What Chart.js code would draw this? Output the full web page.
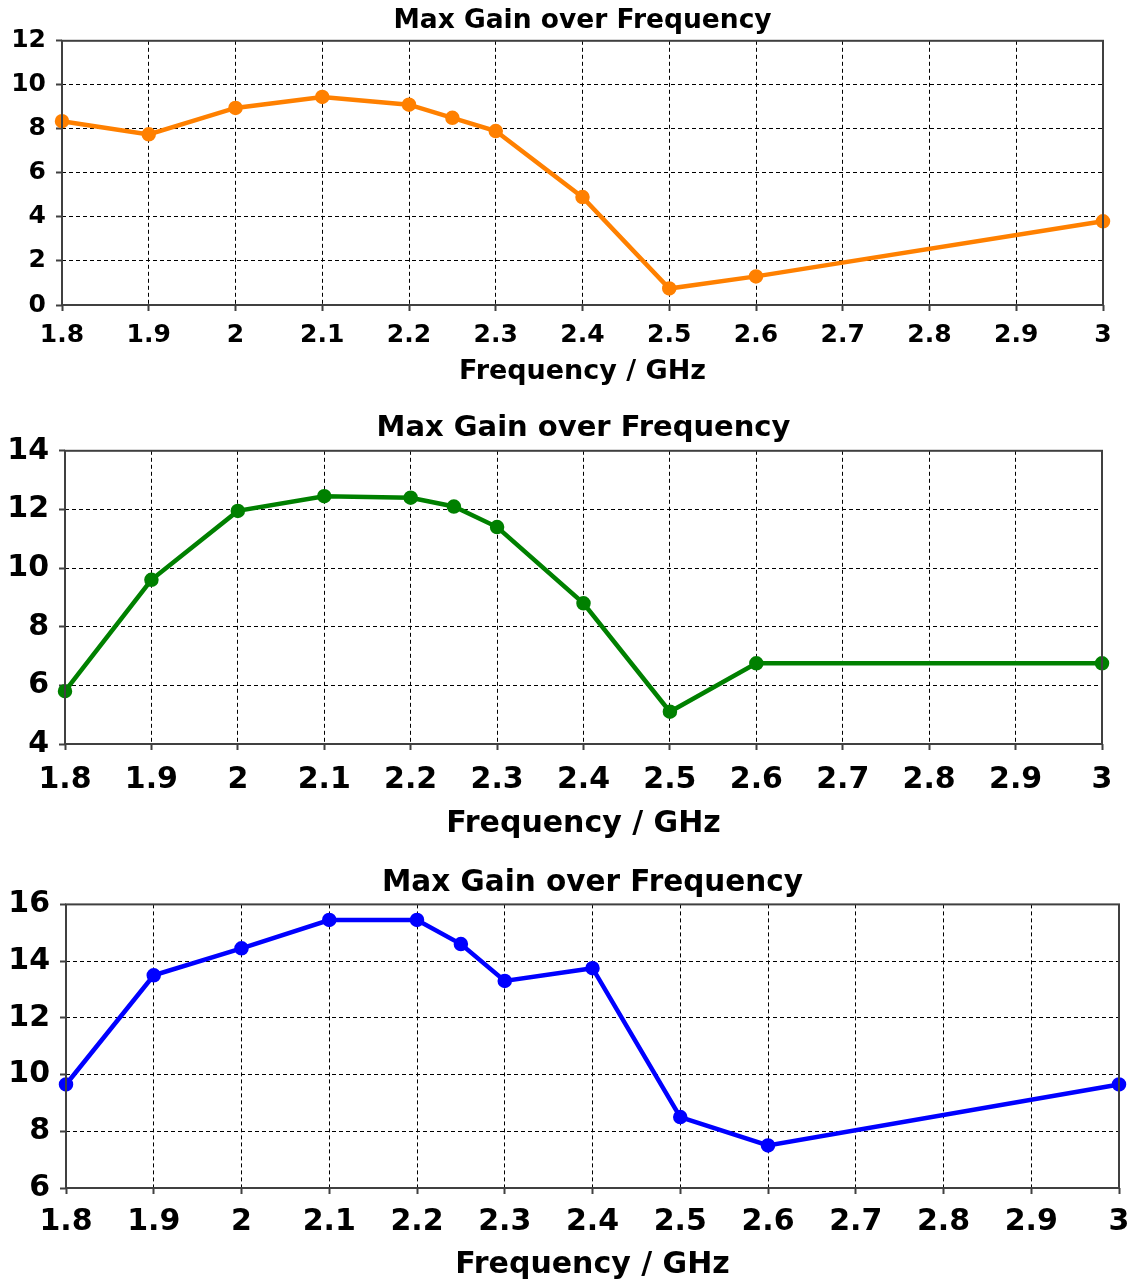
<!DOCTYPE html>
<html>
<head>
<meta charset="utf-8">
<script src="https://cdn.jsdelivr.net/npm/chart.js@4/dist/chart.umd.min.js"></script>
<style>
    body { margin: 0; background: #fff; }
    .box { position: absolute; left: 0; width: 1133px; }
</style>
</head>
<body>
<div class="box" style="top:0px;height:392px"><canvas id="chart1"></canvas></div>
<div class="box" style="top:392px;height:455px"><canvas id="chart2"></canvas></div>
<div class="box" style="top:847px;height:438px"><canvas id="chart3"></canvas></div>
<script>
// frequency points, GHz
const freqs = [1.8, 1.9, 2.0, 2.1, 2.2, 2.25, 2.3, 2.4, 2.5, 2.6, 3.0];

// max gain for the three antennas
const gain1 = [8.35, 7.75, 8.95, 9.45, 9.1, 8.5, 7.9, 4.9, 0.75, 1.3, 3.8];
const gain2 = [5.8, 9.6, 11.95, 12.45, 12.4, 12.1, 11.4, 8.8, 5.1, 6.75, 6.75];
const gain3 = [9.65, 13.5, 14.45, 15.45, 15.45, 14.6, 13.3, 13.75, 8.5, 7.5, 9.65];

const titleText = 'Max Gain over Frequency';
const xTitle = 'Frequency / GHz';

// box round the plot area, and title centred over the plot instead of the canvas
const frame = {
    id: 'frame',
    afterLayout(chart) {
        if (chart.titleBlock) {
            chart.titleBlock.left = chart.chartArea.left;
            chart.titleBlock.right = chart.chartArea.right;
        }
    },
    afterDraw(chart) {
        const a = chart.chartArea;
        const ctx = chart.ctx;
        ctx.save();
        ctx.strokeStyle = '#404040';
        ctx.lineWidth = 2;
        ctx.strokeRect(a.left, a.top, a.right - a.left, a.bottom - a.top);
        ctx.restore();
    }
};

function makeChart(id, values, color, yMin, yMax, s) {
    const points = freqs.map((f, i) => ({ x: f, y: values[i] }));
    const font = size => ({ family: 'DejaVu Sans', weight: 'bold', size: size });

    return new Chart(document.getElementById(id), {
        type: 'line',
        data: {
            datasets: [{
                data: points,
                borderColor: color,
                backgroundColor: color,
                borderWidth: 4.5,
                pointRadius: 5,
                pointHoverRadius: 5,
                clip: false
            }]
        },
        plugins: [frame],
        options: {
            responsive: true,
            maintainAspectRatio: false,
            animation: false,
            layout: { padding: { left: 0, right: s.right, top: 0, bottom: 0 } },
            plugins: {
                legend: { display: false },
                tooltip: { enabled: false },
                title: {
                    display: true,
                    text: titleText,
                    color: '#000',
                    font: font(s.titleSize),
                    padding: { top: s.titleTop, bottom: s.titleBottom }
                }
            },
            scales: {
                x: {
                    type: 'linear',
                    min: 1.8,
                    max: 3.0,
                    afterFit: scale => {
                        scale.height = s.xHeight;
                        scale.paddingLeft = 0;
                        scale.paddingRight = 0;
                    },
                    ticks: {
                        stepSize: 0.1,
                        color: '#000',
                        font: font(s.tickSize),
                        padding: s.xPad,
                        maxRotation: 0,
                        callback: v => String(Number(v.toFixed(2)))
                    },
                    grid: { color: '#000', lineWidth: 1, tickLength: 6, tickColor: '#404040', tickWidth: 2 },
                    border: { display: false, dash: [4, 3] },
                    title: {
                        display: true,
                        text: xTitle,
                        color: '#000',
                        font: font(s.axisSize),
                        padding: { top: 0, bottom: s.axisBottom }
                    }
                },
                y: {
                    min: yMin,
                    max: yMax,
                    afterFit: scale => { scale.width = s.yWidth; },
                    ticks: {
                        stepSize: 2,
                        color: '#000',
                        font: font(s.tickSize),
                        padding: s.yPad
                    },
                    grid: { color: '#000', lineWidth: 1, tickLength: 6, tickColor: '#404040', tickWidth: 2 },
                    border: { display: false, dash: [4, 3] }
                }
            }
        }
    });
}

makeChart('chart1', gain1, '#ff8000', 0, 12, {
    right: 30, titleSize: 26.5, titleTop: 5, titleBottom: 4, tickSize: 25, axisSize: 27,
    xHeight: 87, xPad: 9, axisBottom: 4, yWidth: 62, yPad: 10
});
makeChart('chart2', gain2, '#008000', 4, 14, {
    right: 31, titleSize: 29, titleTop: 19, titleBottom: 5, tickSize: 30, axisSize: 30,
    xHeight: 103, xPad: 12, axisBottom: 5, yWidth: 65, yPad: 10
});
makeChart('chart3', gain3, '#0000ff', 6, 16, {
    right: 14, titleSize: 29.5, titleTop: 19, titleBottom: 3, tickSize: 30, axisSize: 30,
    xHeight: 97, xPad: 10, axisBottom: 2, yWidth: 66, yPad: 10
});
</script>
</body>
</html>
